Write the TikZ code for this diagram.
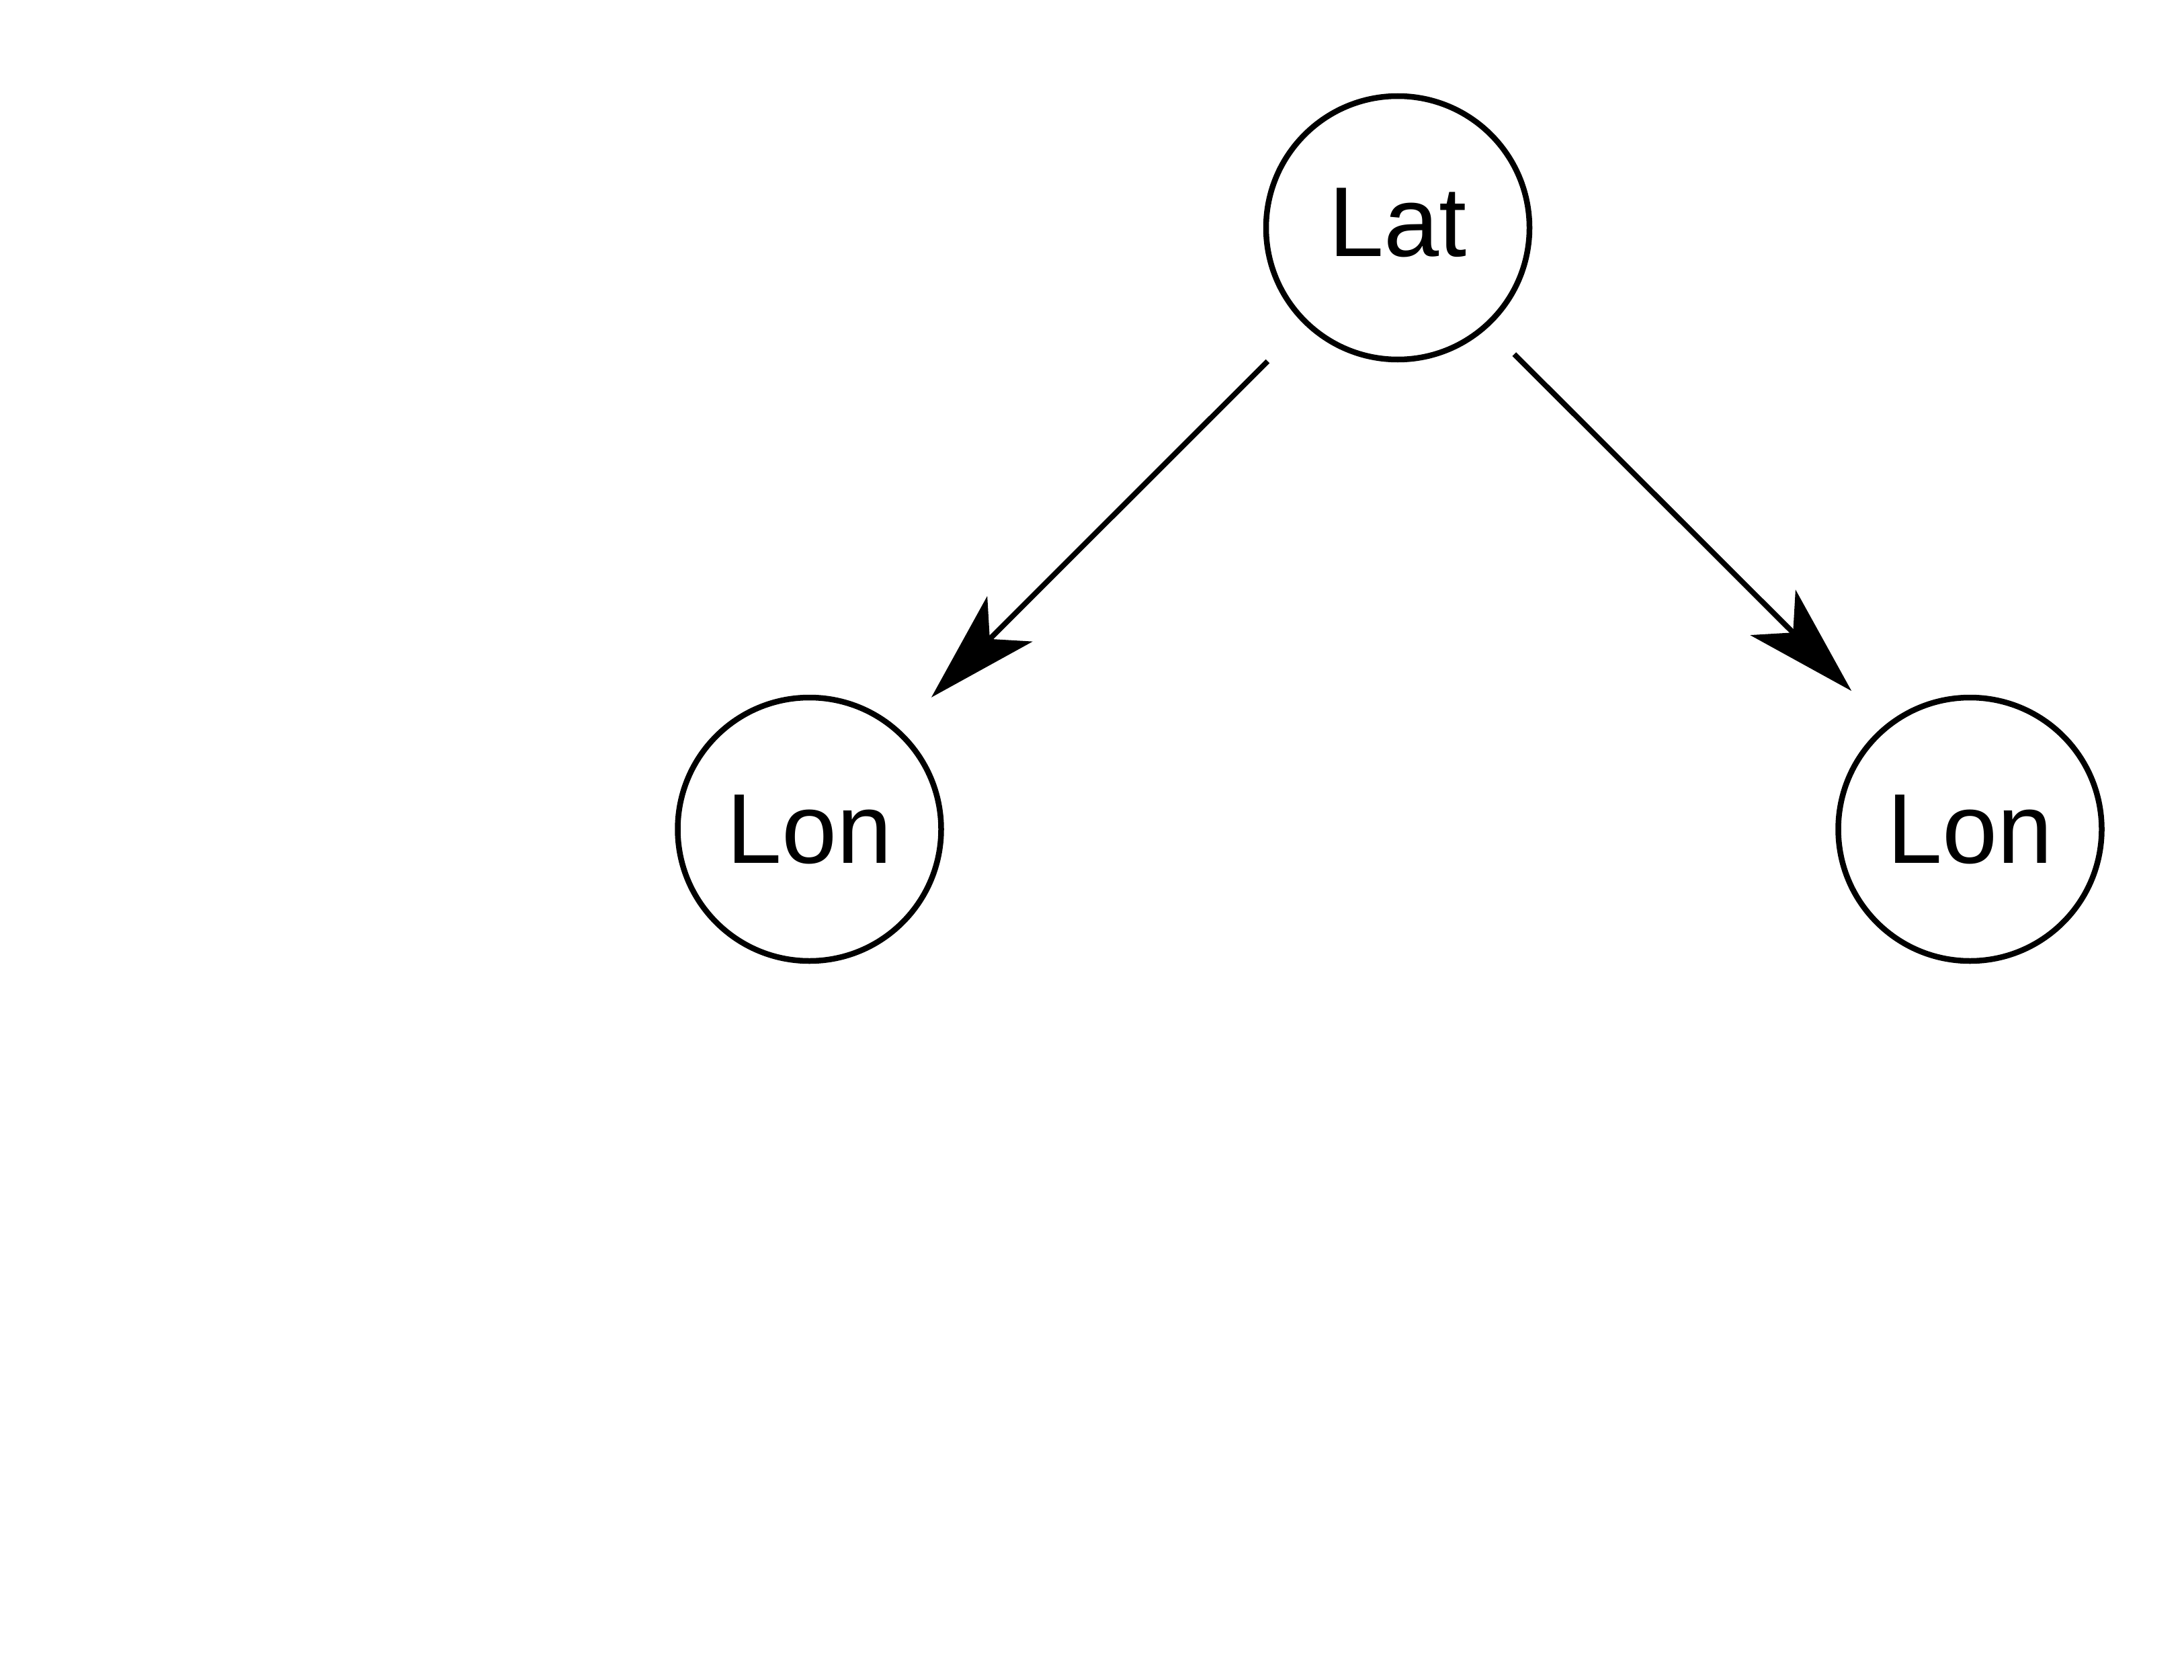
\documentclass[tikz,border=0pt]{standalone}
\usepackage{fontspec}
\setmainfont{Liberation Sans}
\usetikzlibrary{positioning, arrows.meta}

\begin{document}
\begin{tikzpicture}[
		var/.style={draw, circle, line width=.085cm, minimum size=3.92cm, inner sep=0pt, font=\fontsize{42}{50}\selectfont},
		edge/.style={-{Stealth[length=1.65cm, width=.95cm, inset=.42cm]}, line width=.08cm}
	]
			\useasboundingbox	(0, 0)	rectangle	(32.5, -25);
			\node	[var]	(lat)	at	(20.8, -3.39)		{\raisebox{.08cm}[\height][\depth]{Lat}};
			\node	[var]	(lonL)	at	(12.045, -12.34)	{Lon};
			\node	[var]	(lonR)	at	(29.315, -12.34)	{Lon};
			\draw	[edge, shorten <=.77cm, shorten >=.67cm]	(lat.-134.2) -- (lonL.48);
			\draw	[edge, shorten <=.555cm, shorten >=.71cm]	(lat.-48) -- (lonR.129.2);
		\end{tikzpicture}
\end{document}
